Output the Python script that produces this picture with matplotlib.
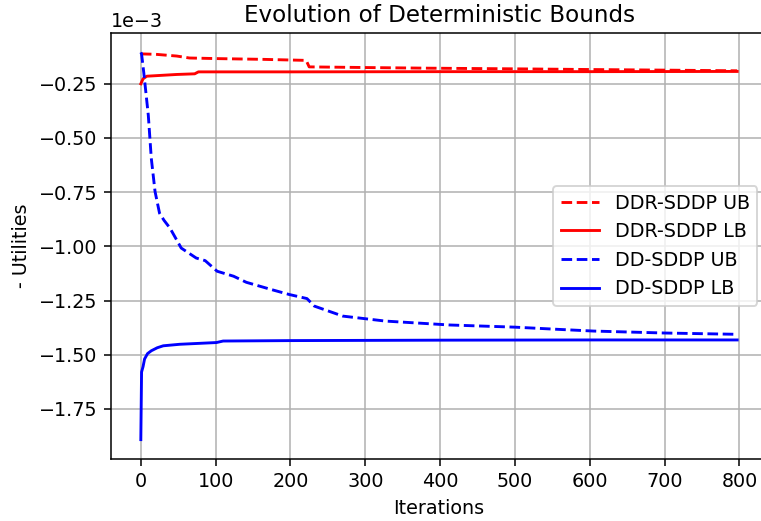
import matplotlib
matplotlib.use('Agg')
import matplotlib.pyplot as plt
import numpy as np

# breakpoints (iteration, value in 1e-3 units)
ddr_ub_it = [0, 20, 48, 65, 105, 160, 221, 225, 300, 385, 500, 594, 700, 797]
ddr_ub_val = [-0.112, -0.114, -0.122, -0.131, -0.134, -0.137, -0.142, -0.172,
              -0.175, -0.178, -0.181, -0.184, -0.187, -0.190]

ddr_lb_it = [0, 3, 8, 48, 72, 77, 200, 400, 600, 797]
ddr_lb_val = [-0.250, -0.227, -0.215, -0.207, -0.204, -0.195, -0.195, -0.194,
              -0.194, -0.193]

dd_ub_it = [0, 1, 4, 8, 10, 14, 19, 25, 31, 39, 54, 74, 86, 102, 124, 141,
            174, 198, 222, 232, 270, 327, 413, 500, 557, 605, 700, 797]
dd_ub_val = [-0.105, -0.112, -0.200, -0.330, -0.395, -0.594, -0.747, -0.847,
             -0.880, -0.916, -1.008, -1.054, -1.066, -1.115, -1.138, -1.166,
             -1.199, -1.222, -1.241, -1.276, -1.322, -1.345, -1.363, -1.373,
             -1.383, -1.391, -1.400, -1.406]

dd_lb_it = [0, 1, 3, 5, 9, 14, 22, 30, 52, 101, 110, 200, 400, 600, 797]
dd_lb_val = [-1.892, -1.580, -1.555, -1.520, -1.495, -1.482, -1.468, -1.459,
             -1.452, -1.444, -1.437, -1.435, -1.433, -1.432, -1.432]

scale = 1e-3

fig = plt.figure(figsize=(761 / 138, 521 / 138), dpi=138)
ax = fig.add_axes([111 / 761, 1 - 459 / 521, (767 - 111) / 761, (459 - 33) / 521])

ax.plot(ddr_ub_it, np.array(ddr_ub_val) * scale, 'r--', label='DDR-SDDP UB')
ax.plot(ddr_lb_it, np.array(ddr_lb_val) * scale, 'r-', label='DDR-SDDP LB')
ax.plot(dd_ub_it, np.array(dd_ub_val) * scale, 'b--', label='DD-SDDP UB')
ax.plot(dd_lb_it, np.array(dd_lb_val) * scale, 'b-', label='DD-SDDP LB')

ax.set_xticks(np.arange(0, 801, 100))
ax.set_yticks(np.arange(-1.75, -0.24, 0.25) * scale)
ax.ticklabel_format(axis='y', style='sci', scilimits=(-3, -3))
ax.grid(True)
ax.set_title('Evolution of Deterministic Bounds')
ax.set_xlabel('Iterations')
ax.set_ylabel('- Utilities')
ax.legend(loc='center right')

fig.savefig('out.png', dpi=138)
